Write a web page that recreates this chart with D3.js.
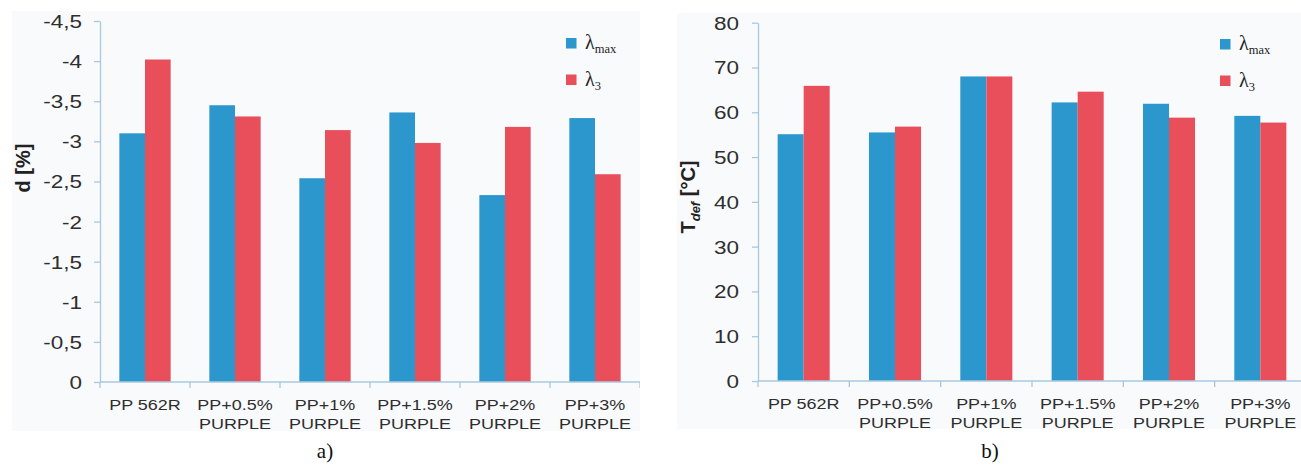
<!DOCTYPE html>
<html><head><meta charset="utf-8">
<script src="https://cdn.jsdelivr.net/npm/d3@7"></script>
<style>
html,body{margin:0;padding:0;background:#fff;}
svg{display:block;}
</style></head>
<body>
<svg id="chart" width="1301" height="470"></svg>
<script>
// ---- data ----
const categories = ["PP 562R", "PP+0.5%|PURPLE", "PP+1%|PURPLE", "PP+1.5%|PURPLE", "PP+2%|PURPLE", "PP+3%|PURPLE"];
const seriesKeys = ["lmax", "l3"];
const seriesSubs = ["max", "3"];
const dLambdaMax = [-3.10, -3.45, -2.54, -3.36, -2.33, -3.29];
const dLambda3   = [-4.02, -3.31, -3.14, -2.98, -3.18, -2.59];
const tLambdaMax = [55.1, 55.5, 68.0, 62.2, 61.9, 59.2];
const tLambda3   = [65.9, 56.8, 68.0, 64.6, 58.8, 57.7];
const dTicks = [0, -0.5, -1, -1.5, -2, -2.5, -3, -3.5, -4, -4.5];
const tTicks = [0, 10, 20, 30, 40, 50, 60, 70, 80];
const captions = ["a)", "b)"];

const colors = {lmax: "#2b97cd", l3: "#e84f5b"};
const axisColor = "#a9c8dc";
const textColor = "#2e2e2e";
const sans = "'Liberation Sans', Arial, sans-serif";
const serif = "'Liberation Serif', 'Times New Roman', serif";

const svg = d3.select("#chart");
const defs = svg.append("defs");

function fmtComma(d){ return d === 0 ? "0" : String(d).replace(".", ","); }

function panel(cfg){
  const g = svg.append("g");
  const clipId = "clip" + cfg.id;
  defs.append("clipPath").attr("id", clipId).append("rect")
    .attr("x", cfg.bg[0]).attr("y", cfg.bg[1]).attr("width", cfg.bg[2]).attr("height", cfg.bg[3]);
  const pg = g.append("g").attr("clip-path", `url(#${clipId})`);
  pg.append("rect").attr("x", cfg.bg[0]).attr("y", cfg.bg[1]).attr("width", cfg.bg[2]).attr("height", cfg.bg[3]).attr("fill", "#f9fafc");

  const x0 = d3.scaleBand().domain(categories).range(cfg.xRange).paddingInner(0.43).paddingOuter(0.215);
  const x1 = d3.scaleBand().domain(seriesKeys).range([0, x0.bandwidth()]).padding(0);
  const y = d3.scaleLinear().domain(cfg.yDomain).range(cfg.yRange);

  const rows = categories.map((c, i) => ({cat: c, lmax: cfg.s1[i], l3: cfg.s2[i]}));

  // bars
  const grp = pg.selectAll("g.grp").data(rows).join("g").attr("class", "grp")
    .attr("transform", d => `translate(${x0(d.cat)},0)`);
  grp.selectAll("rect").data(d => seriesKeys.map(k => ({k, v: d[k]}))).join("rect")
    .attr("x", d => x1(d.k)).attr("width", x1.bandwidth())
    .attr("y", d => Math.min(y(d.v), y(0))).attr("height", d => Math.abs(y(0) - y(d.v)))
    .attr("fill", d => colors[d.k]);

  // y axis
  const yAx = pg.append("g").attr("transform", `translate(${cfg.xRange[0]},0)`)
    .call(d3.axisLeft(y).tickValues(cfg.ticks).tickFormat(cfg.fmt).tickSize(6).tickSizeOuter(0));
  yAx.select(".domain").attr("stroke", axisColor).attr("stroke-width", 1.3);
  yAx.selectAll(".tick line").attr("stroke", axisColor).attr("stroke-width", 1.3);
  yAx.selectAll(".tick text").attr("x", 0).attr("dy", "0.36em")
    .attr("transform", `translate(${-cfg.labelGap},0) scale(1.25,1)`)
    .attr("font-family", sans).attr("font-size", 18).attr("fill", textColor).attr("text-anchor", "end");

  // x axis
  const y0 = y(0);
  const xAx = pg.append("g").attr("transform", `translate(0,${y0})`)
    .call(d3.axisBottom(x0).tickSize(0).tickFormat(""));
  xAx.select(".domain").attr("stroke", axisColor).attr("stroke-width", 1.3)
    .attr("d", `M${cfg.xRange[0]},0H${cfg.xRange[1]}`);
  xAx.selectAll(".tick").remove();
  const edges = d3.range(categories.length + 1).map(i => cfg.xRange[0] + i * x0.step());
  xAx.selectAll("line.edge").data(edges).join("line").attr("class", "edge")
    .attr("x1", d => d).attr("x2", d => d).attr("y1", 0).attr("y2", 6)
    .attr("stroke", axisColor).attr("stroke-width", 1.3);

  const lab = pg.selectAll("g.xlab").data(categories).join("g").attr("class", "xlab")
    .attr("transform", d => `translate(${x0(d) + x0.bandwidth() / 2},0)`);
  lab.each(function(d){
    const lines = d.split("|");
    d3.select(this).selectAll("text").data(lines).join("text")
      .attr("transform", (t, i) => `translate(0,${cfg.labelY + i * 19.2}) scale(1.16,1)`)
      .attr("text-anchor", "middle").attr("font-family", sans).attr("font-size", 15.5)
      .attr("fill", textColor).text(t => t);
  });

  // y title
  const tt = g.append("text").attr("transform", `translate(${cfg.titleX},${cfg.titleY}) rotate(-90)`)
    .attr("text-anchor", "middle").attr("font-family", sans).attr("font-weight", "bold")
    .attr("font-size", 20).attr("fill", "#222");
  cfg.title(tt);

  // legend
  seriesKeys.forEach((k, i) => {
    const ly = cfg.legend[1] + i * 36.5;
    g.append("rect").attr("x", cfg.legend[0]).attr("y", ly).attr("width", 10.5).attr("height", 10.5).attr("fill", colors[k]);
    const t = g.append("text").attr("x", cfg.legend[0] + 19).attr("y", ly + 11)
      .attr("font-family", serif).attr("font-size", 20).attr("fill", "#222");
    t.append("tspan").text("λ");
    t.append("tspan").attr("dy", 4).attr("font-size", 12.5).text(seriesSubs[i]);
  });

  // caption
  svg.append("text").attr("x", cfg.captionX).attr("y", 458).attr("text-anchor", "middle")
    .attr("font-family", serif).attr("font-size", 21).attr("fill", "#111").text(cfg.caption);
}

panel({
  id: "a", bg: [12, 11, 628, 420], xRange: [100, 640], yDomain: [0, -4.5], yRange: [382, 21],
  s1: dLambdaMax, s2: dLambda3, ticks: dTicks, fmt: fmtComma, labelGap: 18, labelY: 410,
  titleX: 30, titleY: 168,
  title: t => t.text("d [%]"),
  legend: [566, 38], caption: captions[0], captionX: 325
});

panel({
  id: "b", bg: [677, 13, 624, 416], xRange: [758, 1306], yDomain: [0, 80], yRange: [381, 22.7],
  s1: tLambdaMax, s2: tLambda3, ticks: tTicks, fmt: d => String(d), labelGap: 19, labelY: 409,
  titleX: 695, titleY: 197,
  title: t => { t.append("tspan").text("T"); t.append("tspan").attr("font-size", 13).attr("font-style", "italic").attr("dy", 5).text("def");
                t.append("tspan").attr("dy", -5).text(" [°C]"); },
  legend: [1220, 39], caption: captions[1], captionX: 990
});
</script>
</body></html>
